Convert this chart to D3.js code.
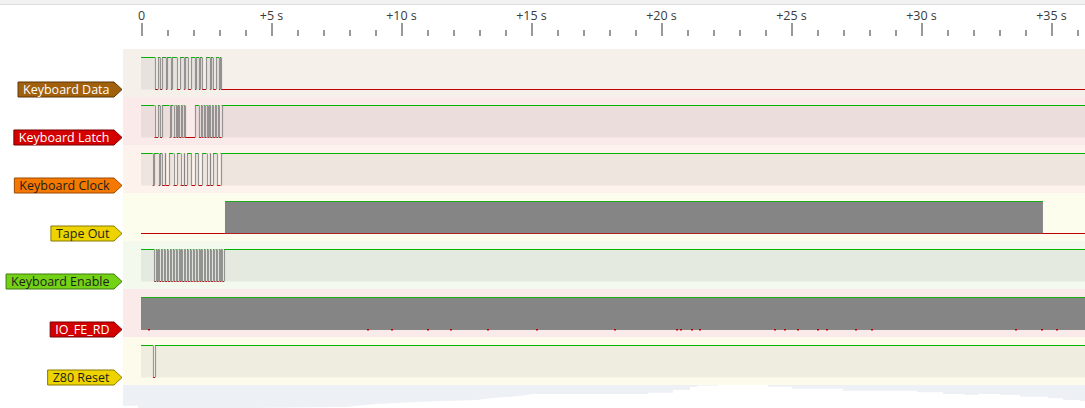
<!DOCTYPE html>
<html><head><meta charset="utf-8">
<script src="https://cdn.jsdelivr.net/npm/d3@7"></script>
<style>body{margin:0;background:#fff;overflow:hidden}svg{display:block}</style>
</head><body><svg id="c" width="1085" height="408"></svg>
<script>
// ---------------- data ----------------
const signalNames = ["Keyboard Data","Keyboard Latch","Keyboard Clock","Tape Out","Keyboard Enable","IO_FE_RD","Z80 Reset"];
const majorTicks = [0,5,10,15,20,25,30,35];
const tickLabels = ["0","+5 s","+10 s","+15 s","+20 s","+25 s","+30 s","+35 s"];
const endTime = 36.4;

// high intervals, seconds
const keyboardDataHigh = [[0,0.54],[0.65,0.73],[0.81,0.96],[1.0,1.15],[1.19,1.38],[1.5,1.65],[1.69,1.81],[1.92,2.08],[2.12,2.23],[2.27,2.35],[2.5,2.65],[2.69,2.77],[2.88,3.0],[3.04,3.08]];
const keyboardLatchHigh = [[0,0.52],[0.65,0.73],[0.81,1.1],[1.14,1.25],[1.33,1.37],[1.43,1.47],[1.55,1.59],[1.64,1.68],[2.08,2.23],[2.31,2.35],[2.41,2.45],[2.52,2.56],[2.63,2.67],[2.74,2.78],[2.86,2.9],[2.96,3.0],[3.1,36.4]];
const keyboardClockHigh = [[0,0.45],[0.5,0.68],[0.73,0.81],[0.92,0.94],[1.08,1.25],[1.38,1.52],[1.65,1.67],[1.77,1.94],[2.08,2.21],[2.35,2.52],[2.65,2.67],[2.77,2.92],[3.06,36.4]];
const tapeOutHigh = [];
const keyboardEnableHigh = [[0,0.51],[0.57,0.61],[0.67,0.71],[0.78,0.82],[0.88,0.92],[1.0,1.04],[1.12,1.16],[1.22,1.26],[1.33,1.37],[1.45,1.49],[1.55,1.59],[1.67,1.71],[1.77,1.81],[1.88,1.92],[1.99,2.03],[2.1,2.14],[2.22,2.26],[2.32,2.36],[2.43,2.47],[2.54,2.58],[2.65,2.69],[2.77,2.81],[2.87,2.91],[2.99,3.03],[3.09,3.13],[3.19,36.4]];
const ioFeRdHigh = [];
const z80ResetHigh = [[0,0.46],[0.54,36.4]];

// densely toggling spans, seconds
const tapeOutDense = [[3.23,34.69]];
const ioFeRdDense = [[0,36.4]];
// visible low glitches inside the IO_FE_RD dense span
const ioFeRdLowMarks = [0.25,8.7,9.6,11.0,11.9,13.3,15.2,18.19,20.58,20.73,21.15,21.46,24.35,24.73,25.23,26.0,26.35,27.46,28.08,33.6,34.6,35.2];

const highSeries = [keyboardDataHigh,keyboardLatchHigh,keyboardClockHigh,tapeOutHigh,keyboardEnableHigh,ioFeRdHigh,z80ResetHigh];
const denseSeries = [[],[],[],tapeOutDense,[],ioFeRdDense,[]];

// ---------------- style ----------------
const labelFill   = ["#a0600c","#d40000","#f57900","#edd400","#73d216","#d40000","#edd400"];
const labelStroke = ["#5c3500","#7a0000","#9a4a00","#8a7a00","#3f7a0a","#7a0000","#8a7a00"];
const labelText   = ["#ffffff","#ffffff","#1e1e1e","#1e1e1e","#1e1e1e","#ffffff","#1e1e1e"];
const rowBg       = ["#f5f0ea","#fbeaea","#fdf3ec","#fdfdee","#f3f9ed","#fbeaea","#fdfcec"];
const HIGH = "#00b400", LOW = "#c00000", EDGE = "#808080";
const FONT = "'Open Sans', 'DejaVu Sans', sans-serif";

const W = 1085, H = 408;
const svg = d3.select("#c");
const x = d3.scaleLinear().domain([0,35]).range([141,1051]);
const plotLeft = 123;
const rowTop = i => 49 + 48*i;
const hiY = i => rowTop(i) + 8.5;
const loY = i => rowTop(i) + 40.5;
const clipX = v => Math.min(W, Math.max(plotLeft, v));

// top strip
svg.append("rect").attr("x",0).attr("y",0).attr("width",W).attr("height",4).attr("fill","#f2f2f2");
svg.append("line").attr("x1",0).attr("x2",W).attr("y1",4.5).attr("y2",4.5).attr("stroke","#dcdcdc");

// ruler axis
const ticksAll = d3.range(0,37);
const axis = d3.axisTop(x).tickValues(ticksAll).tickSize(0).tickFormat("");
const axG = svg.append("g").attr("transform","translate(0,36)").call(axis);
axG.select(".domain").remove();
axG.selectAll(".tick line").remove();
axG.selectAll(".tick").append("line")
  .attr("x1",0.5).attr("x2",0.5)
  .attr("y1",0)
  .attr("y2",d => majorTicks.includes(d) ? -13 : -6)
  .attr("stroke","#333").attr("stroke-width",1);
majorTicks.forEach((t,i) => {
  svg.append("text").attr("x",x(t)+0.5).attr("y",20).attr("text-anchor","middle")
    .attr("font-family",FONT).attr("font-size","12.5px").attr("fill","#3a3a3a").text(tickLabels[i]);
});

// rows
signalNames.forEach((name,i) => {
  const g = svg.append("g");
  g.append("rect").attr("x",plotLeft).attr("y",rowTop(i)).attr("width",W-plotLeft).attr("height",48).attr("fill",rowBg[i]);
  const hi = hiY(i), lo = loY(i);
  const highs = highSeries[i];
  const dense = denseSeries[i];
  // low intervals = complement of highs and dense
  const busy = highs.concat(dense).slice().sort((a,b)=>a[0]-b[0]);
  const lows = [];
  let cur = 0;
  busy.forEach(([a,b]) => { if (a > cur) lows.push([cur,a]); cur = Math.max(cur,b); });
  if (cur < endTime) lows.push([cur,endTime]);

  // fill under high
  g.selectAll(null).data(highs).join("rect")
    .attr("x",d=>clipX(x(d[0]))).attr("y",hi)
    .attr("width",d=>Math.max(0,clipX(x(d[1]))-clipX(x(d[0])))).attr("height",lo-hi)
    .attr("fill","rgba(128,128,128,0.12)");
  // high lines
  g.selectAll(null).data(highs).join("line")
    .attr("x1",d=>clipX(x(d[0]))).attr("x2",d=>clipX(x(d[1])))
    .attr("y1",hi).attr("y2",hi).attr("stroke",HIGH).attr("stroke-width",1);
  // low lines
  g.selectAll(null).data(lows).join("line")
    .attr("x1",d=>clipX(x(d[0]))).attr("x2",d=>clipX(x(d[1])))
    .attr("y1",lo).attr("y2",lo).attr("stroke",LOW).attr("stroke-width",1);
  // dense blocks
  g.selectAll(null).data(dense).join("rect")
    .attr("x",d=>clipX(x(d[0]))).attr("y",hi-0.5)
    .attr("width",d=>clipX(x(d[1]))-clipX(x(d[0]))).attr("height",lo-hi+1)
    .attr("fill","#858585");
  g.selectAll(null).data(dense).join("line")
    .attr("x1",d=>clipX(x(d[0]))).attr("x2",d=>clipX(x(d[1])))
    .attr("y1",hi).attr("y2",hi).attr("stroke",HIGH).attr("stroke-opacity",0.8);
  if (name === "Tape Out") {
    g.selectAll(null).data(dense).join("line")
      .attr("x1",d=>clipX(x(d[0]))).attr("x2",d=>clipX(x(d[1])))
      .attr("y1",lo).attr("y2",lo).attr("stroke",LOW).attr("stroke-opacity",0.75);
  }
  if (name === "IO_FE_RD") {
    g.selectAll(null).data(ioFeRdLowMarks).join("rect")
      .attr("x",d=>Math.round(x(d))).attr("y",lo-0.5).attr("width",2).attr("height",1.5)
      .attr("fill",LOW);
  }
  // edges
  const edges = [];
  highs.forEach(([a,b]) => { if (a>0) edges.push(a); if (b<endTime) edges.push(b); });
  g.selectAll(null).data(edges).join("line")
    .attr("x1",d=>Math.round(x(d))+0.5).attr("x2",d=>Math.round(x(d))+0.5)
    .attr("y1",hi).attr("y2",lo).attr("stroke",EDGE).attr("stroke-opacity",0.8).attr("stroke-width",1.2);

  // label
  const lg = svg.append("g");
  const t = lg.append("text").attr("font-family",FONT).attr("font-size","12.5px")
    .attr("fill",labelText[i]).text(name);
  const w = t.node().getComputedTextLength();
  const tip = 122, tipW = 8, padR = 5, padL = 5, hh = 8;
  const right = tip - tipW, left = right - padR - w - padL;
  const cy = lo;
  lg.insert("path","text")
    .attr("d",`M${left+0.5},${cy-hh+0.5}H${right}L${tip},${cy}L${right},${cy+hh-0.5}H${left+0.5}Z`)
    .attr("fill",labelFill[i]).attr("stroke",labelStroke[i]).attr("stroke-width",1);
  t.attr("x",left+padL+0.5).attr("y",cy+4.5);
});

// bottom backdrop
svg.append("rect").attr("x",plotLeft).attr("y",385).attr("width",W-plotLeft).attr("height",H-385).attr("fill","#edf1f6");
const shore = [[122,405.7],[138,405.7],[138,408],[253,408],[345,407],[377,404],[423,401.7],[477,400],[493,398],[520,396],[533,394],[648,394],[648,392.7],[673,392.7],[673,390],[690,390],[690,387],[697,387],[697,385.7],[718,385.7],[718,385],[768,385],[768,386.7],[792,386.7],[792,388.7],[843,388.7],[843,390.7],[917,390.7],[917,392.3],[943,392.3],[943,394],[965,394],[965,395],[978,395],[978,394],[1000,394],[1000,395],[1020,395],[1020,396.7],[1048,396.7],[1048,398.3],[1063,398.3],[1063,400],[1080,400],[1080,401],[1085,401],[1085,408],[122,408]];
svg.append("path").attr("d",d3.line()(shore)+"Z").attr("fill","#ffffff");
</script></body></html>
